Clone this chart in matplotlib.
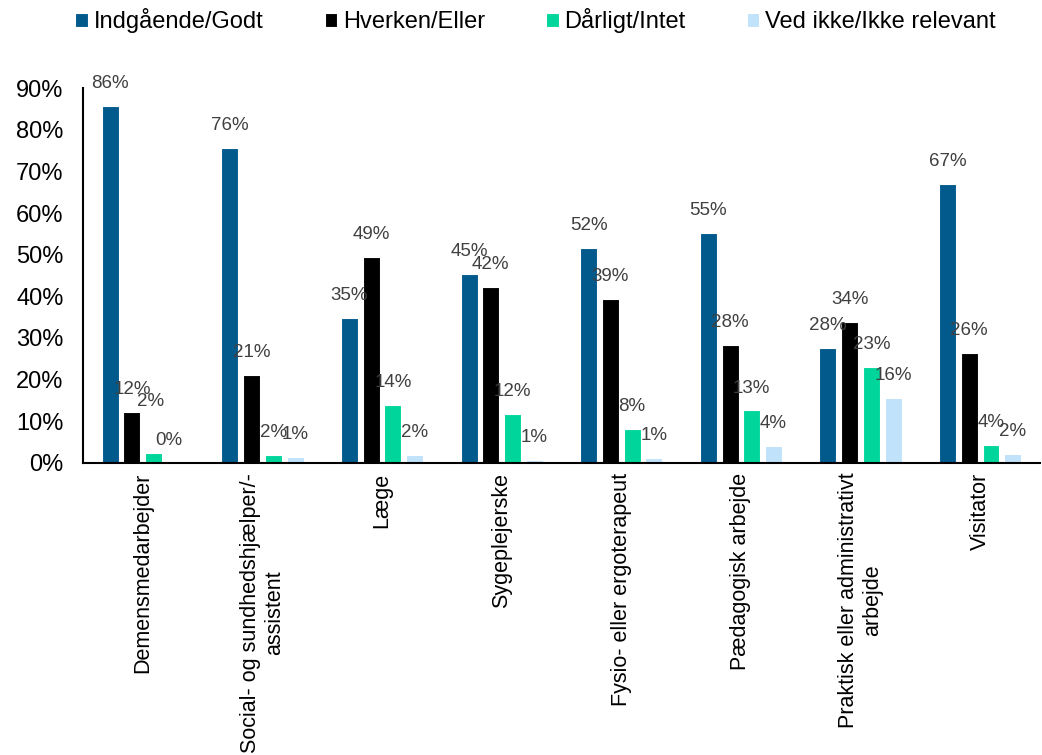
import matplotlib
matplotlib.use("Agg")
import matplotlib.pyplot as plt
import numpy as np

plt.rcParams['font.family'] = ['Liberation Sans', 'DejaVu Sans']

categories = ["Demensmedarbejder", "Social- og sundhedshjælper/-\nassistent", "Læge",
              "Sygeplejerske", "Fysio- eller ergoterapeut", "Pædagogisk arbejde",
              "Praktisk eller administrativt\narbejde", "Visitator"]
series_names = ["Indgående/Godt", "Hverken/Eller", "Dårligt/Intet", "Ved ikke/Ikke relevant"]
indgaaende = [85.8, 75.7, 34.8, 45.4, 51.6, 55.2, 27.6, 67.0]
hverken = [12.2, 21.1, 49.4, 42.2, 39.4, 28.3, 33.8, 26.4]
daarligt = [2.4, 1.9, 13.9, 11.8, 8.2, 12.6, 23.0, 4.4]
vedikke = [0.0, 1.4, 1.9, 0.7, 1.2, 4.1, 15.6, 2.2]
colors = ["#02598C", "#000000", "#00D69B", "#C0E2FA"]

fig = plt.figure(figsize=(10.42, 7.55), dpi=100)
ax = fig.add_axes([0.0797, 0.3868, 0.9183, 0.4966])

x = np.arange(len(categories))
width = 0.142
step = 0.182
all_series = [indgaaende, hverken, daarligt, vedikke]
handles = []
for i, (vals, col, name) in enumerate(zip(all_series, colors, series_names)):
    pos = x + (i - 1.5) * step
    bars = ax.bar(pos, vals, width=width, color=col, edgecolor="white", linewidth=0.8, label=name)
    handles.append(bars)
    for j, (p, v) in enumerate(zip(pos, vals)):
        dy = 16
        dx = 0
        if i == 2 and j == 0:
            dy = 37
            dx = -2
        if i == 3 and j == 0:
            dx = -5
        ax.annotate(f"{round(v):.0f}%", (p, v), xytext=(dx, dy), textcoords="offset points",
                    ha="center", va="center", fontsize=13.5, color="#404040")

ax.set_xlim(-0.5, len(categories) - 0.5)
ax.set_ylim(0, 90)
ax.set_yticks(np.arange(0, 91, 10))
ax.set_yticklabels([f"{t}%" for t in range(0, 91, 10)], fontsize=17)
ax.set_xticks(x)
ax.set_xticklabels(categories, rotation=90, fontsize=15.5, ha="center", va="top",
                   multialignment="center")
ax.tick_params(axis="both", length=0)
ax.tick_params(axis="y", pad=14)
ax.tick_params(axis="x", pad=7)
for s in ["top", "right"]:
    ax.spines[s].set_visible(False)
for s in ["left", "bottom"]:
    ax.spines[s].set_linewidth(1.5)
    ax.spines[s].set_color("black")

fig.legend(handles=handles, labels=series_names, loc="upper center", bbox_to_anchor=(0.514, 1.011),
           ncol=4, frameon=False, fontsize=17, handlelength=0.52, handleheight=0.52,
           handletextpad=0.25, columnspacing=2.6, borderaxespad=0.3)

fig.savefig("out.png", dpi=100)
